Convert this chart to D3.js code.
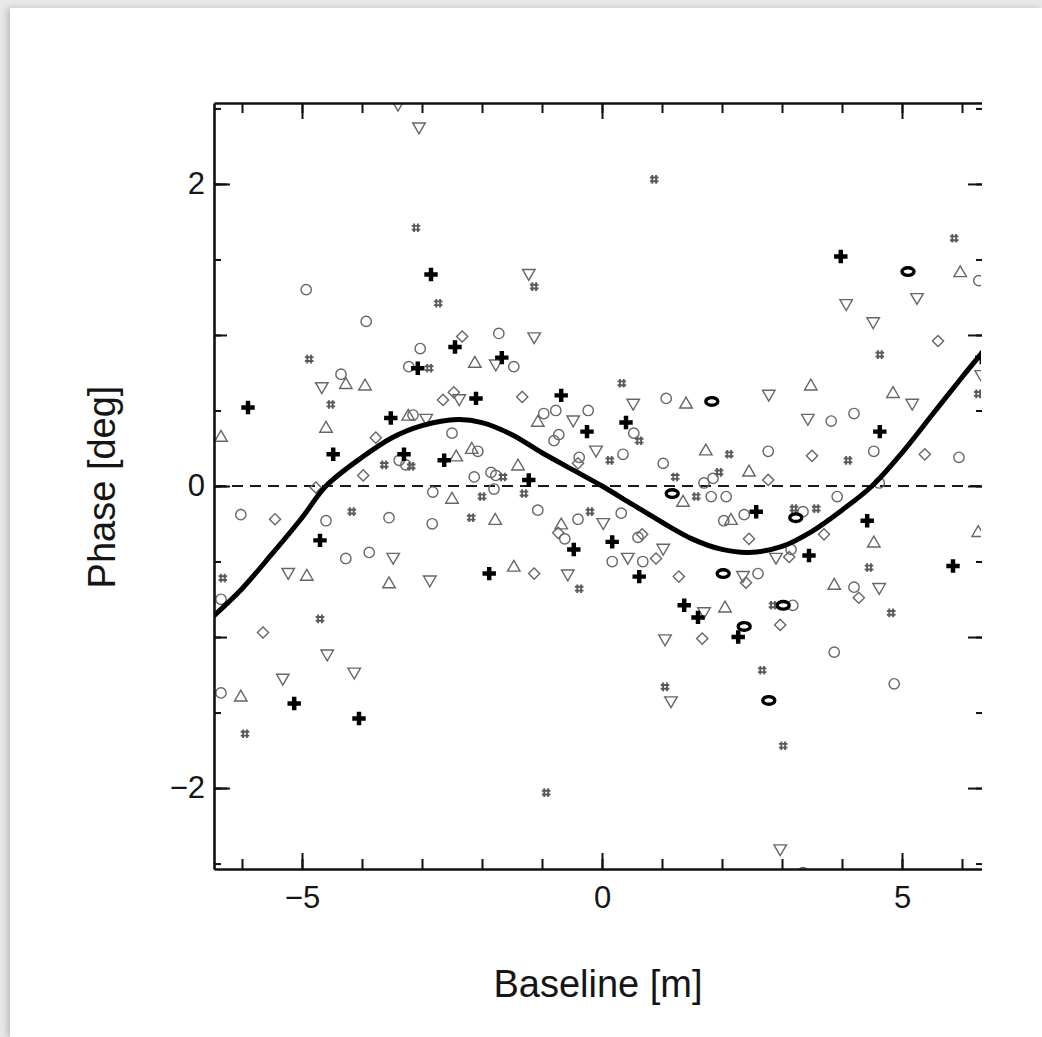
<!DOCTYPE html>
<html>
<head>
<meta charset="utf-8">
<script src="https://cdn.jsdelivr.net/npm/d3@7"></script>
<style>
  html, body { margin: 0; padding: 0; background: #e8e8e8; overflow: hidden; }
  #page { position: absolute; left: 10px; top: 8px; width: 1032px; height: 1029px; background: #fff;
          box-shadow: -3px 0 6px rgba(0,0,0,0.18); }
  #chart { position: absolute; left: 0; top: 0; }
  text { font-family: "Liberation Sans", Arial, sans-serif; fill: #151515; }
</style>
</head>
<body>
<div id="page"></div>
<div id="chart"></div>
<script>
var svgWidth = 1042;
var svgHeight = 1037;

// plot frame (pixels)
var plot = { left: 214, top: 103, right: 983, bottom: 869, clipRight: 981 };

// ---- data: [baseline m, phase deg] ----
var circles = [[-4.93,1.30],[-3.93,1.09],[-1.72,1.01],[-3.03,0.91],[-1.47,0.79],[-3.22,0.79],[-4.35,0.74],
  [-0.77,0.50],[-0.23,0.50],[-0.97,0.48],[-0.80,0.30],[-0.72,0.34],[-0.38,0.19],[-3.15,0.47],[-2.50,0.35],
  [-3.38,0.17],[-3.27,0.14],[-2.07,0.23],[-2.13,0.06],[-1.85,0.09],[-1.77,0.07],[6.28,1.36],[1.07,0.58],
  [3.82,0.43],[4.20,0.48],[0.53,0.35],[4.53,0.23],[5.95,0.19],[0.35,0.21],[1.02,0.15],[2.77,0.23],[1.70,0.02],
  [1.85,0.05],[4.62,0.02],[-2.82,-0.04],[-1.80,-0.02],[-6.02,-0.19],[-4.60,-0.23],[-3.55,-0.21],[-2.83,-0.25],
  [-1.07,-0.16],[-0.40,-0.22],[-0.62,-0.35],[-4.27,-0.48],[-3.88,-0.44],[-6.35,-1.37],[1.82,-0.07],[2.07,-0.07],
  [3.92,-0.07],[0.32,-0.18],[0.17,-0.50],[0.68,-0.50],[2.03,-0.23],[2.37,-0.19],[3.35,-0.17],[3.15,-0.42],
  [2.60,-0.58],[4.20,-0.67],[3.18,-0.79],[3.87,-1.10],[4.87,-1.31],[0.60,-0.34],[-6.35,-0.75],[3.35,-2.56]];

var trianglesUp = [[-2.12,0.81],[-4.27,0.67],[-3.95,0.66],[-4.60,0.38],[-3.23,0.46],[-2.43,0.19],[-2.17,0.24],
  [-1.40,0.13],[-1.07,0.42],[5.97,1.41],[1.40,0.54],[3.48,0.66],[4.85,0.61],[1.73,0.23],[2.45,0.09],[-2.50,-0.09],
  [-1.78,-0.23],[-0.68,-0.26],[-4.92,-0.60],[-3.55,-0.65],[-1.47,-0.54],[-6.02,-1.40],[1.35,-0.11],[2.15,-0.23],
  [4.53,-0.38],[6.27,-0.31],[3.87,-0.66],[2.05,-0.81],[-6.35,0.32]];

var trianglesDown = [[-3.40,2.53],[-3.05,2.38],[-1.22,1.41],[-1.13,0.99],[-1.77,0.81],[-4.67,0.66],[-2.38,0.58],
  [-0.48,0.44],[-0.10,0.24],[-2.93,0.45],[4.07,1.21],[5.25,1.25],[4.52,1.09],[6.32,0.74],[0.52,0.55],[2.78,0.61],
  [5.17,0.55],[3.43,0.45],[0.02,-0.24],[-3.48,-0.47],[-5.23,-0.57],[-2.87,-0.62],[-0.57,-0.58],[-4.58,-1.11],
  [-4.13,-1.23],[-5.32,-1.27],[0.43,-0.47],[1.02,-0.41],[2.90,-0.47],[4.62,-0.67],[2.35,-0.59],[1.70,-0.83],
  [1.05,-1.01],[1.15,-1.42],[2.97,-2.40]];

var diamonds = [[-2.33,0.99],[-2.65,0.57],[-2.47,0.62],[-1.33,0.59],[-3.77,0.32],[-3.98,0.07],[-4.77,-0.01],
  [5.60,0.96],[5.38,0.21],[3.50,0.20],[2.77,0.04],[-5.45,-0.22],[-0.73,-0.31],[-1.13,-0.58],[-5.65,-0.97],
  [0.67,-0.32],[0.90,-0.48],[2.45,-0.35],[3.70,-0.32],[3.12,-0.47],[1.28,-0.60],[2.40,-0.64],[4.28,-0.74],
  [2.97,-0.92],[1.67,-1.01],[-0.40,0.15]];

var hashes = [[-3.10,1.71],[-2.73,1.21],[-1.13,1.32],[-4.88,0.84],[-2.88,0.78],[-4.52,0.54],[-3.63,0.14],
  [-3.18,0.13],[-1.65,0.06],[0.87,2.03],[5.87,1.64],[4.63,0.87],[0.33,0.68],[6.27,0.61],[0.62,0.30],[0.13,0.17],
  [2.12,0.21],[4.10,0.17],[1.22,0.06],[1.95,0.09],[-2.00,-0.07],[-1.30,-0.05],[-4.17,-0.17],[-2.18,-0.21],
  [-0.20,-0.17],[-6.32,-0.61],[-0.38,-0.68],[-4.70,-0.88],[-5.95,-1.64],[-0.93,-2.03],[1.57,-0.07],[3.20,-0.15],
  [3.57,-0.15],[4.45,-0.54],[4.82,-0.84],[2.85,-0.79],[2.67,-1.22],[1.05,-1.33],[3.02,-1.72]];

var crosses = [[-2.85,1.40],[-2.45,0.92],[-1.67,0.85],[-3.07,0.78],[-5.90,0.52],[-2.10,0.58],[-0.68,0.60],
  [-0.25,0.36],[-3.52,0.45],[-4.48,0.21],[-3.30,0.21],[-2.63,0.17],[-1.22,0.04],[3.98,1.52],[0.40,0.42],
  [4.63,0.36],[6.33,0.85],[-4.70,-0.36],[-0.47,-0.42],[-1.88,-0.58],[-5.13,-1.44],[-4.05,-1.54],[0.17,-0.37],
  [0.62,-0.60],[2.57,-0.17],[4.42,-0.23],[3.45,-0.46],[5.85,-0.53],[1.60,-0.87],[1.37,-0.79],[2.27,-1.00]];

var slotted = [[5.10,1.42],[1.83,0.56],[1.17,-0.05],[3.23,-0.21],[2.02,-0.58],[3.02,-0.79],[2.37,-0.93],[2.78,-1.42]];

var fitX = [-6.47,-6.0,-5.5,-5.0,-4.6,-4.0,-3.5,-3.0,-2.4,-2.0,-1.5,-1.0,-0.5,0,0.5,1.0,1.5,2.0,2.45,3.0,3.5,4.0,4.5,5.0,5.5,6.0,6.35];
var fitY = [-0.86,-0.68,-0.45,-0.21,0.0,0.19,0.32,0.40,0.44,0.42,0.34,0.22,0.11,0,-0.12,-0.24,-0.35,-0.42,-0.44,-0.40,-0.30,-0.16,0.0,0.22,0.47,0.72,0.89];

var xMajorTicks = [-5, 0, 5];
var xMinorTicks = d3.range(-6, 7, 1);
var yMajorTicks = [-2, 0, 2];
var yIntTicks = [-2, -1, 0, 1, 2];
var yHalfTicks = d3.range(-2.5, 2.51, 0.5);

// ---- scales ----
var xScale = d3.scaleLinear().domain([-6.4667, 6.35]).range([plot.left, plot.right]);
var yScale = d3.scaleLinear().domain([-2.536, 2.536]).range([plot.bottom, plot.top]);

var svg = d3.select("#chart").append("svg")
  .attr("width", svgWidth)
  .attr("height", svgHeight);

var defs = svg.append("defs");
defs.append("clipPath").attr("id", "plotclip").append("rect")
  .attr("x", plot.left).attr("y", plot.top)
  .attr("width", plot.clipRight - plot.left).attr("height", plot.bottom - plot.top);
defs.append("clipPath").attr("id", "axisclip").append("rect")
  .attr("x", 0).attr("y", 0).attr("width", plot.clipRight + 1).attr("height", svgHeight);

var inner = svg.append("g").attr("clip-path", "url(#plotclip)");

// zero line
inner.append("line")
  .attr("x1", plot.left).attr("x2", plot.right)
  .attr("y1", yScale(0)).attr("y2", yScale(0))
  .attr("stroke", "#1a1a1a").attr("stroke-width", 2)
  .attr("stroke-dasharray", "11,7");

// marker shapes
var gray = "#666";
var shapes = {
  circle: d3.symbol(d3.symbolCircle, 84)(),
  up: d3.symbol(d3.symbolTriangle, 68)(),
  diamond: d3.symbol(d3.symbolDiamond2, 80)(),
  hash: "M-1.9,-4.3V4.3M1.9,-4.3V4.3M-4.3,-1.9H4.3M-4.3,1.9H4.3",
  cross: d3.symbol(d3.symbolCross, 100)()
};

function drawSet(data, path, rot, cls) {
  inner.append("g").attr("class", cls)
    .selectAll("path").data(data).enter()
    .append("path")
    .attr("d", path)
    .attr("transform", d => `translate(${xScale(d[0])},${yScale(d[1])}) rotate(${rot})`)
    .attr("fill", "none")
    .attr("stroke", cls == "hash" ? "#5a5a5a" : gray)
    .attr("stroke-width", cls == "hash" ? 1.9 : 1.4);
}

drawSet(circles, shapes.circle, 0, "circle");
drawSet(trianglesUp, shapes.up, 0, "up");
drawSet(trianglesDown, shapes.up, 180, "down");
drawSet(diamonds, shapes.diamond, 0, "diamond");
drawSet(hashes, shapes.hash, 0, "hash");

// fit curve
var fit = fitX.map((v, i) => [v, fitY[i]]);
var line = d3.line()
  .x(d => xScale(d[0]))
  .y(d => yScale(d[1]))
  .curve(d3.curveCatmullRom);

inner.append("path")
  .datum(fit)
  .attr("d", line)
  .attr("fill", "none")
  .attr("stroke", "#000")
  .attr("stroke-width", 5);

// black markers
inner.append("g").selectAll("path").data(crosses).enter()
  .append("path")
  .attr("d", shapes.cross)
  .attr("transform", d => `translate(${xScale(d[0])},${yScale(d[1])})`)
  .attr("fill", "#000");

inner.append("g").selectAll("ellipse").data(slotted).enter()
  .append("ellipse")
  .attr("cx", d => xScale(d[0]))
  .attr("cy", d => yScale(d[1]))
  .attr("rx", 6).attr("ry", 3.8)
  .attr("fill", "#fff")
  .attr("stroke", "#000")
  .attr("stroke-width", 3.4);

// ---- axes (ticks point inward) ----
var axes = svg.append("g").attr("clip-path", "url(#axisclip)");
var fmt = d3.format("d");

function styleAxis(g, keepDomain) {
  g.selectAll(".tick line").attr("stroke", "#111").attr("stroke-width", 2);
  g.select(".domain").attr("stroke", keepDomain ? "#111" : "none").attr("stroke-width", 2.6);
  g.selectAll("text").attr("font-size", "31px").attr("fill", "#151515")
    .attr("font-family", "Liberation Sans, Arial, sans-serif");
}

// bottom
axes.append("g").attr("transform", `translate(0,${plot.bottom})`)
  .call(d3.axisBottom(xScale).tickValues(xMinorTicks).tickSizeInner(-10).tickSizeOuter(0).tickFormat(""))
  .call(g => styleAxis(g, true));
axes.append("g").attr("transform", `translate(0,${plot.bottom})`)
  .call(d3.axisBottom(xScale).tickValues(xMajorTicks).tickSizeInner(-16).tickSizeOuter(0).tickPadding(17).tickFormat(fmt))
  .call(g => styleAxis(g, false));

// top
axes.append("g").attr("transform", `translate(0,${plot.top})`)
  .call(d3.axisTop(xScale).tickValues(xMinorTicks).tickSizeInner(-10).tickSizeOuter(0).tickFormat(""))
  .call(g => styleAxis(g, true));
axes.append("g").attr("transform", `translate(0,${plot.top})`)
  .call(d3.axisTop(xScale).tickValues(xMajorTicks).tickSizeInner(-16).tickSizeOuter(0).tickFormat(""))
  .call(g => styleAxis(g, false));

// left
axes.append("g").attr("transform", `translate(${plot.left},0)`)
  .call(d3.axisLeft(yScale).tickValues(yHalfTicks).tickSizeInner(-7).tickSizeOuter(0).tickFormat(""))
  .call(g => styleAxis(g, true));
axes.append("g").attr("transform", `translate(${plot.left},0)`)
  .call(d3.axisLeft(yScale).tickValues(yIntTicks).tickSizeInner(-13).tickSizeOuter(0).tickFormat(""))
  .call(g => styleAxis(g, false));
axes.append("g").attr("transform", `translate(${plot.left},0)`)
  .call(d3.axisLeft(yScale).tickValues(yMajorTicks).tickSizeInner(-16).tickSizeOuter(0).tickPadding(9).tickFormat(fmt))
  .call(g => styleAxis(g, false));

// right (spine falls outside the cropped figure)
axes.append("g").attr("transform", `translate(${plot.right},0)`)
  .call(d3.axisRight(yScale).tickValues(yHalfTicks).tickSizeInner(-7).tickSizeOuter(0).tickFormat(""))
  .call(g => styleAxis(g, false));
axes.append("g").attr("transform", `translate(${plot.right},0)`)
  .call(d3.axisRight(yScale).tickValues(yIntTicks).tickSizeInner(-15).tickSizeOuter(0).tickFormat(""))
  .call(g => styleAxis(g, false));

// axis titles
svg.append("text")
  .attr("x", 598).attr("y", 997)
  .attr("text-anchor", "middle")
  .attr("font-size", "38px")
  .text("Baseline [m]");

svg.append("text")
  .attr("transform", "translate(115,487) rotate(-90)")
  .attr("text-anchor", "middle")
  .attr("font-size", "38px")
  .text("Phase [deg]");
</script>
</body>
</html>
